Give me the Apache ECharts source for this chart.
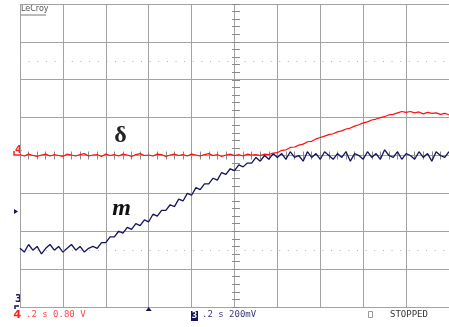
<!DOCTYPE html>
<html><head><meta charset="utf-8">
<script src="https://cdn.jsdelivr.net/npm/echarts@6/dist/echarts.min.js"></script>
<style>html,body{margin:0;padding:0;background:#fff}#c{width:449px;height:327px}</style>
</head><body><div id="c"></div>
<script>
// time base: 0.2 s/div, 10 divisions; samples every 0.02 s
const timeMin = 0, timeMax = 2.0, timeDiv = 0.2, sampleStep = 0.02;
// Channel 4 (red, delta), volts, 0.80 V/div
const ch4Volts = [
 0.02,-0.01,0.03,0.00,-0.02,0.01,0.03,-0.01,0.02,0.00,
 -0.02,0.03,0.01,-0.01,0.02,0.04,-0.01,0.01,0.02,-0.02,
 0.03,0.00,0.02,-0.01,0.03,0.01,-0.02,0.02,0.04,0.00,
 0.01,-0.01,0.03,0.02,-0.02,0.01,0.03,0.00,0.02,-0.01,
 0.03,0.01,-0.01,0.02,0.04,0.00,0.02,-0.02,0.01,0.03,
 0.00,0.02,-0.01,0.03,0.01,0.02,0.00,0.03,
 0.02,0.05,0.06,0.11,0.12,0.17,0.18,0.22,0.24,0.29,0.30,0.35,0.38,0.41,0.44,0.46,
 0.50,0.52,0.56,0.58,0.62,0.65,0.69,0.71,0.75,0.77,0.80,0.82,0.86,0.87,0.90,0.93,0.91,
 0.93,0.90,0.92,0.88,0.91,0.89,0.90,0.87,0.89,0.86
];
// Channel 3 (navy, m), volts, 200 mV/div
const ch3Volts = [
 -0.49,-0.51,-0.47,-0.50,-0.48,-0.52,-0.49,-0.47,-0.50,-0.48,-0.51,-0.49,-0.47,-0.50,-0.48,-0.51,-0.49,-0.48,
 -0.49,-0.46,-0.46,-0.43,-0.43,-0.40,-0.41,-0.38,-0.39,-0.36,-0.37,-0.34,-0.35,-0.31,-0.32,-0.29,-0.29,
 -0.26,-0.27,-0.23,-0.24,-0.20,-0.21,-0.17,-0.18,-0.15,-0.15,-0.12,-0.13,-0.09,-0.10,-0.07,-0.08,
 -0.05,-0.06,-0.04,-0.04,-0.01,-0.03,0.00,-0.02,0.01,-0.01,
 0.01,-0.02,0.02,-0.01,0.00,-0.03,0.02,-0.01,0.01,-0.02,
 0.02,0.00,-0.02,0.01,-0.01,0.02,-0.03,0.01,0.00,-0.02,
 0.02,-0.01,0.01,-0.02,0.03,0.00,-0.01,0.02,-0.02,0.01,
 0.00,-0.02,0.02,-0.01,0.01,-0.03,0.02,0.00,-0.01,0.02
];
const ch4VoltsPerDiv = 0.8, ch3VoltsPerDiv = 0.2, halfDivs = 4;
const dottedLevelDivs = 2.5;
const ch4Label = '.2 s 0.80 V', ch3Label = '.2 s 200mV', statusLabel = 'STOPPED';
const triggerTime = 0.6;

const toPairs = arr => arr.map((v, i) => [timeMin + i * sampleStep, v]);
const gridCol = '#a2a2a2', tickCol = '#8a8a8a';
const L = 20, T = 4, W = 432, H = 303;

const hiddenAxis = {axisLabel:{show:false}, axisLine:{show:false}, axisTick:{show:false}, splitLine:{show:false}};
function tickX(inside){ return {type:'value', min:timeMin, max:timeMax, interval:timeDiv, position:'bottom', offset:-H/2,
  axisLabel:{show:false}, splitLine:{show:false}, axisLine:{show:false},
  axisTick:{show:true, inside:inside, length:4, lineStyle:{color:tickCol}},
  minorTick:{show:true, splitNumber:5, length:4, lineStyle:{color:tickCol}}}; }
function tickY(inside){ return {type:'value', min:-halfDivs, max:halfDivs, interval:1, position:'left', offset:-W/2,
  axisLabel:{show:false}, splitLine:{show:false}, axisLine:{show:false},
  axisTick:{show:true, inside:inside, length:4, lineStyle:{color:tickCol}},
  minorTick:{show:true, splitNumber:5, length:4, lineStyle:{color:tickCol}}}; }

const chart = echarts.init(document.getElementById('c'), null, {renderer:'canvas'});
const mono = '"DejaVu Sans Mono", monospace';
chart.setOption({
  animation:false,
  backgroundColor:'#ffffff',
  grid:{left:L, top:T, width:W, height:H, show:false},
  xAxis:[
    {type:'value', min:timeMin, max:timeMax, interval:timeDiv, axisLabel:{show:false}, axisLine:{show:false}, axisTick:{show:false},
     splitLine:{show:true, lineStyle:{color:gridCol, width:1}}},
    tickX(true), tickX(false)
  ],
  yAxis:[
    {type:'value', min:-halfDivs*ch4VoltsPerDiv, max:halfDivs*ch4VoltsPerDiv, interval:ch4VoltsPerDiv,
     axisLabel:{show:false}, axisLine:{show:false}, axisTick:{show:false},
     splitLine:{show:true, lineStyle:{color:gridCol, width:1}}},
    Object.assign({type:'value', min:-halfDivs*ch3VoltsPerDiv, max:halfDivs*ch3VoltsPerDiv, interval:ch3VoltsPerDiv}, hiddenAxis),
    tickY(true), tickY(false)
  ],
  series:[
    {type:'line', name:'ch4', xAxisIndex:0, yAxisIndex:0, data:toPairs(ch4Volts), showSymbol:false, symbol:'none',
     lineStyle:{color:'#ff1010', width:1.2}, z:5,
     markLine:{silent:true, symbol:'none', label:{show:false},
       lineStyle:{type:[1,7.64], color:'#b0b0b0', width:1},
       data:[{yAxis:dottedLevelDivs*ch4VoltsPerDiv},{yAxis:-dottedLevelDivs*ch4VoltsPerDiv}]}},
    {type:'line', name:'ch3', xAxisIndex:0, yAxisIndex:1, data:toPairs(ch3Volts), showSymbol:false, symbol:'none',
     lineStyle:{color:'#14145e', width:1.3}, z:4,
     markPoint:{silent:true, symbol:'triangle', symbolSize:[6,4], itemStyle:{color:'#14145e'},
       label:{show:false}, data:[{coord:[triggerTime, -halfDivs*ch3VoltsPerDiv], symbolOffset:[0,2]}]}}
  ],
  graphic:[
    {type:'text', x:21, y:5, style:{text:'LeCroy', font:'8px "DejaVu Sans"', fill:'#555'}},
    {type:'line', shape:{x1:21, y1:15, x2:46, y2:15}, style:{stroke:'#777', lineWidth:1}},
    {type:'text', x:120.5, y:148, style:{text:'δ', font:'bold 24px "Liberation Serif"', fill:'#222', align:'center', verticalAlign:'bottom'}},
    {type:'text', x:121.5, y:197, style:{text:'m', font:'italic bold 24px "Liberation Serif"', fill:'#111', align:'center', verticalAlign:'top'}},
    // left channel markers
    {type:'text', x:15, y:150, style:{text:'4', font:'bold 10px "DejaVu Sans"', fill:'#ff2020', verticalAlign:'middle'}},
    {type:'polyline', shape:{points:[[14,151],[14,155],[20,155]]}, style:{stroke:'#ff2020', lineWidth:1.5, fill:null}},
    {type:'polygon', shape:{points:[[14,209],[18,211.5],[14,214]]}, style:{fill:'#14145e'}},
    {type:'text', x:15, y:299, style:{text:'3', font:'bold 10px "DejaVu Sans"', fill:'#14145e', verticalAlign:'middle'}},
    {type:'polyline', shape:{points:[[15,309],[15,306],[19,306]]}, style:{stroke:'#14145e', lineWidth:1.5, fill:null}},
    // bottom status
    {type:'text', x:13.5, y:315, style:{text:'4', font:'bold 11px "DejaVu Sans"', fill:'#ff2020', verticalAlign:'middle'}},
    {type:'text', x:26, y:315, style:{text:ch4Label, font:'9px '+mono, fill:'#ff4a4a', verticalAlign:'middle'}},
    {type:'rect', shape:{x:191, y:311, width:7, height:10}, style:{fill:'#14145e'}},
    {type:'text', x:194.5, y:316, style:{text:'3', font:'bold 9px '+mono, fill:'#fff', align:'center', verticalAlign:'middle'}},
    {type:'text', x:202, y:315, style:{text:ch3Label, font:'9px '+mono, fill:'#3a3a7a', verticalAlign:'middle'}},
    {type:'rect', shape:{x:368.5, y:311.5, width:4, height:6}, style:{fill:null, stroke:'#999', lineWidth:1}},
    {type:'text', x:390, y:315, style:{text:statusLabel, font:'9px '+mono, fill:'#333', verticalAlign:'middle'}}
  ]
});
</script></body></html>
